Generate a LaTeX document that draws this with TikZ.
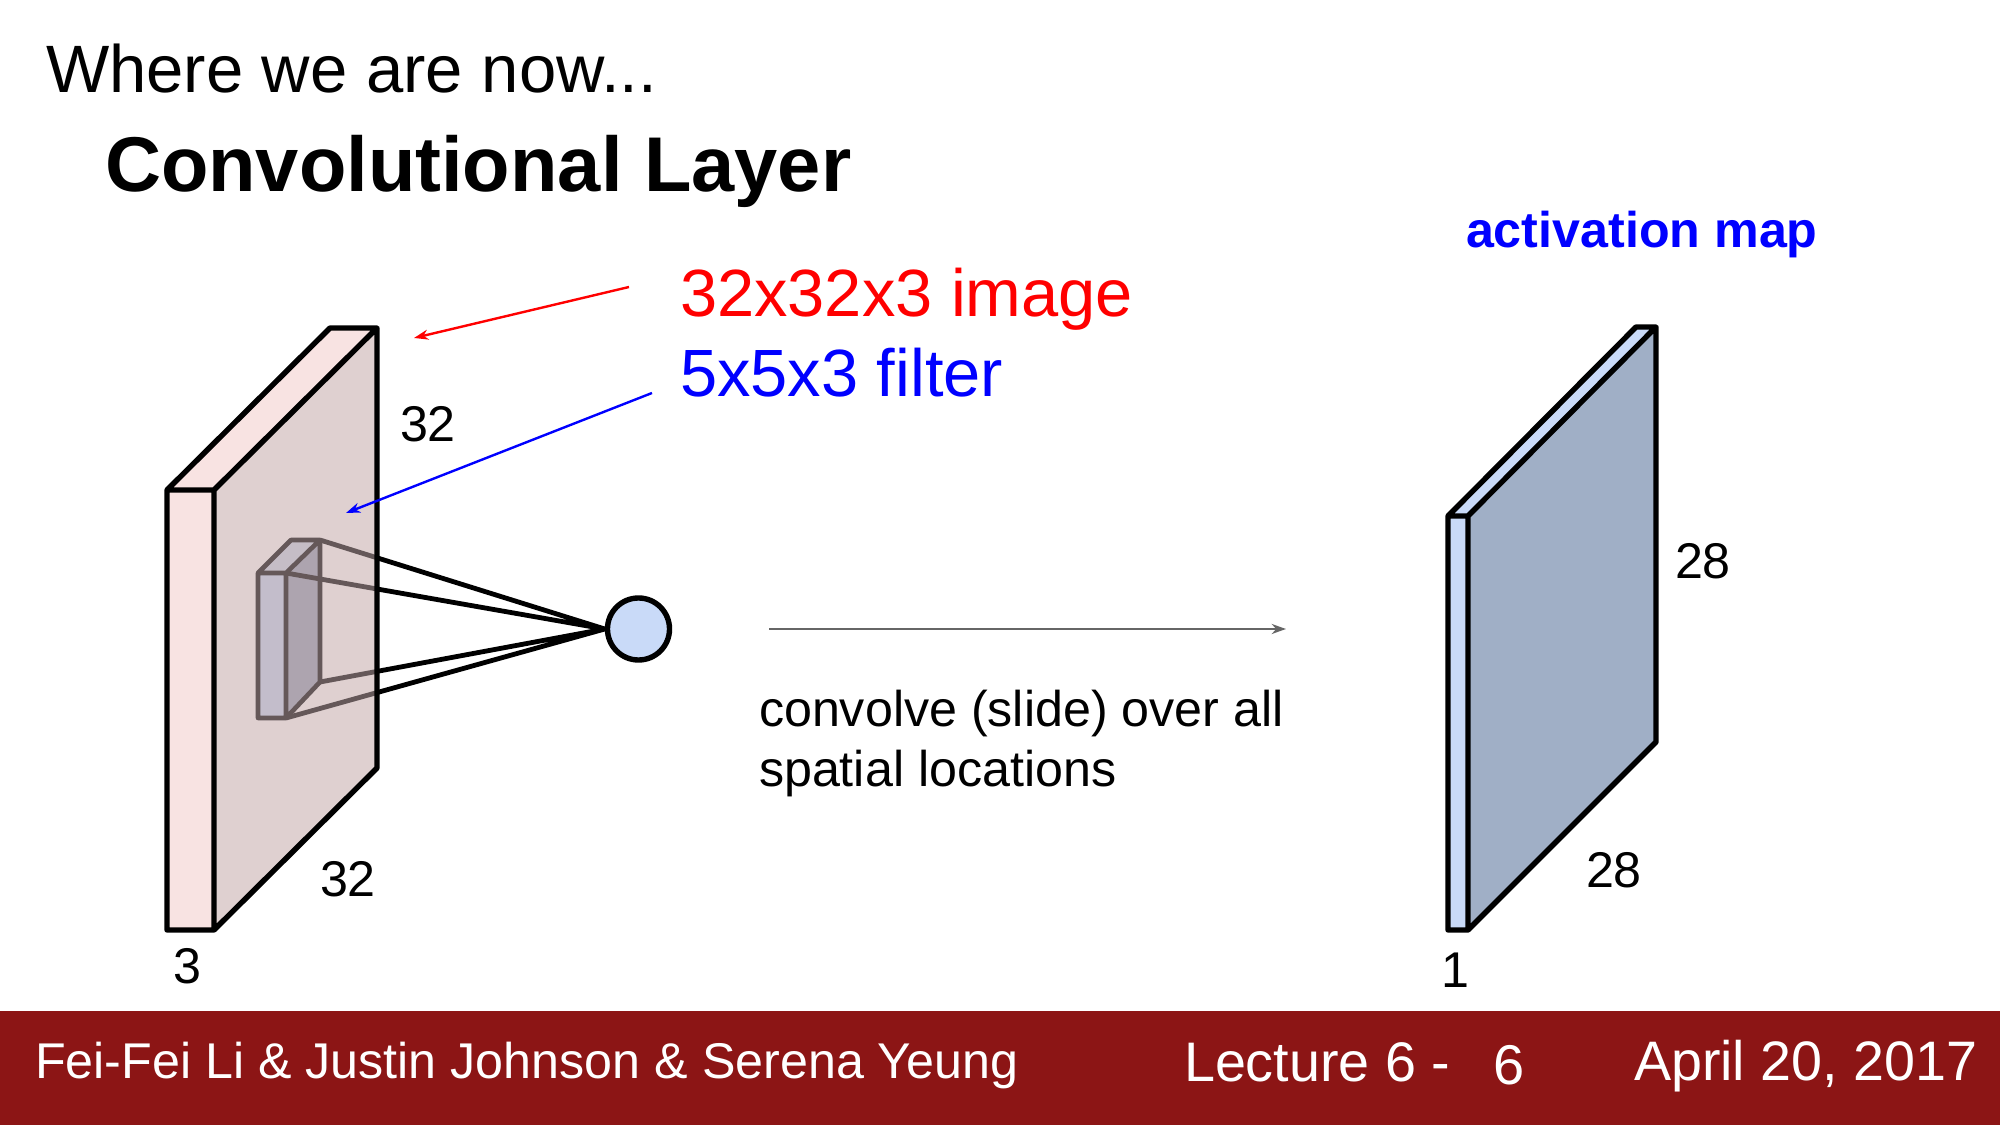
\documentclass[tikz,border=0pt]{standalone}
\usepackage{fontspec}
\setmainfont{Liberation Sans}
\usetikzlibrary{arrows.meta}
\newcommand{\pxfont}[1]{\fontsize{\dimexpr #1pt*2845/10000\relax}{\dimexpr #1pt*3414/10000\relax}\selectfont}
\definecolor{band}{HTML}{8C1515}
\definecolor{plateL}{HTML}{F8E3E2}
\definecolor{plateF}{HTML}{DFD0D0}
\definecolor{filtF}{HTML}{C3BDCB}
\definecolor{filtS}{HTML}{ADA4AF}
\definecolor{filtT}{HTML}{C5BDC6}
\definecolor{filtL}{HTML}{655859}
\definecolor{mapL}{HTML}{C9DAF8}
\definecolor{mapF}{HTML}{A0AFC6}
\tikzset{
  lbl/.style={anchor=base west,inner sep=0pt,outer sep=0pt,text=black},
  edge3d/.style={draw=black,line width=5.4pt*0.2845,line join=round},
  filt/.style={draw=filtL,line width=4.6pt*0.2845,line join=round},
  cone/.style={line width=4.8pt*0.2845},
  thin arrow/.style={line width=2.4pt*0.2845,-{Stealth[length=13pt*0.2845*1.1,width=10pt*0.2845]}}
}
\begin{document}
\begin{tikzpicture}[x=0.01cm,y=-0.01cm]
\useasboundingbox (0,0) rectangle (2000,1125);
\fill[white] (0,0) rectangle (2000,1125);
% footer
\fill[band] (0,1011) rectangle (2000,1125);
\node[lbl,text=white] (foot1) at (35,1078) {\pxfont{50.2}Fei-Fei Li \& Justin Johnson \& Serena Yeung};
\node[lbl,text=white] (foot2) at (1184,1081) {\pxfont{55.7}Lecture 6 -};
\node[lbl,text=white] (foot3) at (1493,1084) {\pxfont{56}6};
\node[lbl,text=white] (foot4) at (1634,1080) {\pxfont{55.6}April 20, 2017};
% titles
\node[lbl] (t1) at (46,93) {\pxfont{67}Where we are now...};
\node[lbl] (t2) at (105,192) {\pxfont{77.6}\bfseries Convolutional Layer};
\node[lbl,text=red] (t3) at (680,317) {\pxfont{66.8}32x32x3 image};
\node[lbl,text=blue] (t4) at (680,397) {\pxfont{66.8}5x5x3 filter};
\node[lbl,text=blue] (t5) at (1466,248) {\pxfont{50.2}\bfseries activation map};
% input volume
\coordinate (a1) at (167,490); \coordinate (a2) at (214,490);
\coordinate (a3) at (214,930); \coordinate (a4) at (167,930);
\coordinate (b1) at (330,328); \coordinate (b2) at (377,328);
\coordinate (b3) at (377,768);
\path[fill=plateF] (a2)--(b2)--(b3)--(a3)--cycle;
\path[fill=plateL] (a1)--(a2)--(a3)--(a4)--cycle;
\path[fill=plateL] (a1)--(b1)--(b2)--(a2)--cycle;
% filter
\coordinate (f1) at (258,573); \coordinate (f2) at (286,573);
\coordinate (f3) at (286,718); \coordinate (f4) at (258,718);
\coordinate (g1) at (291,540); \coordinate (g2) at (320,540);
\coordinate (g3) at (320,682);
\node[circle,draw=black,fill=mapL,line width=5.4pt*0.2845,minimum size=62pt*0.2845,inner sep=0pt] (c) at (638.5,629) {};
\coordinate (apex) at (c.west);
\begin{scope}
\clip (377,0) rectangle (2000,1000);
\draw[cone,black] (g2)--(apex) (f2)--(apex) (g3)--(apex) (f3)--(apex);
\end{scope}
\path[fill=filtS] (f2)--(g2)--(g3)--(f3)--cycle;
\path[fill=filtT] (f1)--(g1)--(g2)--(f2)--cycle;
\path[fill=filtF] (f1)--(f2)--(f3)--(f4)--cycle;
\begin{scope}
\clip (0,0) rectangle (377,1000);
\draw[cone,filtL] (g2)--(apex) (f2)--(apex) (g3)--(apex) (f3)--(apex);
\end{scope}
\draw[filt] (f1)--(f2)--(f3)--(f4)--cycle (f1)--(g1)--(g2)--(f2) (g2)--(g3)--(f3);
% input edges
\draw[edge3d] (a1)--(a2)--(a3)--(a4)--cycle (a1)--(b1)--(b2)--(a2) (b2)--(b3)--(a3);
\node[lbl] (n32a) at (400,442) {\pxfont{50.2}32};
\node[lbl] (n32b) at (320,896) {\pxfont{50.2}32};
\node[lbl] (n3) at (173,983) {\pxfont{50.2}3};
% arrows
\coordinate (r1) at (629,287); \coordinate (r2) at (414,338);
\coordinate (u1) at (652,393); \coordinate (u2) at (346,513);
\draw[thin arrow,red] (r1)--(r2);
\draw[thin arrow,blue] (u1)--(u2);
\coordinate (m1) at (769,629); \coordinate (m2) at (1286,629);
\draw[thin arrow,draw=black!60,fill=black!60] (m1)--(m2);
\node[lbl] (cv1) at (759,726) {\pxfont{50.2}convolve (slide) over all};
\node[lbl] (cv2) at (759,787) {\pxfont{50.2}spatial locations};
% map
\coordinate (p1) at (1448,516); \coordinate (p2) at (1468,516);
\coordinate (p3) at (1468,930); \coordinate (p4) at (1448,930);
\coordinate (q1) at (1636,327); \coordinate (q2) at (1656,327);
\coordinate (q3) at (1656,742);
\path[fill=mapF] (p2)--(q2)--(q3)--(p3)--cycle;
\path[fill=mapL] (p1)--(p2)--(p3)--(p4)--cycle;
\path[fill=mapL] (p1)--(q1)--(q2)--(p2)--cycle;
\draw[edge3d] (p1)--(p2)--(p3)--(p4)--cycle (p1)--(q1)--(q2)--(p2) (q2)--(q3)--(p3);
\node[lbl] (n28a) at (1675,579) {\pxfont{50.2}28};
\node[lbl] (n28b) at (1586,887) {\pxfont{50.2}28};
\node[lbl] (n1) at (1441,987) {\pxfont{50.2}1};
\end{tikzpicture}
\end{document}
